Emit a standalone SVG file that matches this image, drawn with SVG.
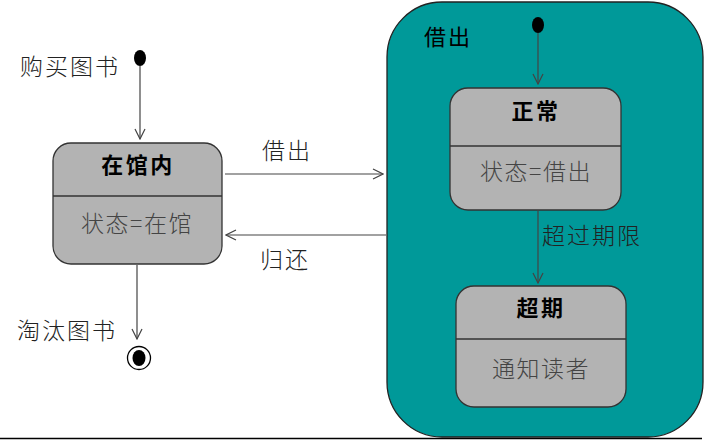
<svg xmlns="http://www.w3.org/2000/svg" width="704" height="440" viewBox="0 0 704 440">
<style>
text{font-family:"Liberation Serif","Noto Sans CJK SC",serif;}
.state{fill:#b3b3b3;stroke:#333;stroke-width:1.3;}
.div{stroke:#333;stroke-width:1.3;}
.title{font-family:"Noto Sans CJK SC",sans-serif;font-weight:bold;font-size:22px;letter-spacing:2.5px;fill:#000;text-anchor:middle;}
.act{font-family:"Noto Sans CJK SC",sans-serif;font-weight:300;font-size:23px;letter-spacing:1.5px;fill:#444;text-anchor:middle;}
.lbl{font-family:"Noto Sans CJK SC",sans-serif;font-weight:300;font-size:23px;letter-spacing:2px;fill:#222;}
.conn{stroke:#444;stroke-width:1.2;fill:none;marker-end:url(#arr);}
</style>
<defs>
<marker id="arr" viewBox="0 0 12 12" refX="11" refY="6" markerWidth="12" markerHeight="12" markerUnits="userSpaceOnUse" orient="auto">
<path d="M1,1 L11,6 L1,11" fill="none" stroke="#444" stroke-width="1.2"/>
</marker>
</defs>
<rect width="704" height="440" fill="#fff"/>
<g id="composite-borrowed">
<rect x="387" y="2" width="316" height="435" rx="55" ry="55" fill="#009999" stroke="#222" stroke-width="1.3"/>
<text x="424" y="45" font-family="Noto Sans CJK SC" font-size="22" letter-spacing="2" fill="#000">借出</text>
</g>
<g id="start-outer">
<ellipse cx="140" cy="58" rx="6" ry="8" fill="#000"/>
</g>
<g id="start-inner">
<ellipse cx="538" cy="25" rx="6" ry="8" fill="#000"/>
</g>
<g id="state-inlibrary">
<rect class="state" x="53" y="143" width="169" height="121" rx="18" ry="18"/>
<line class="div" x1="53" y1="196" x2="222" y2="196"/>
<text class="title" x="138" y="173">在馆内</text>
<text class="act" x="137" y="232">状态=在馆</text>
</g>
<g id="state-normal">
<rect class="state" x="450" y="88" width="171" height="122" rx="18" ry="18"/>
<line class="div" x1="450" y1="146" x2="621" y2="146"/>
<text class="title" x="536" y="119">正常</text>
<text class="act" x="536" y="180">状态=借出</text>
</g>
<g id="state-overdue">
<rect class="state" x="456" y="286" width="170" height="121" rx="18" ry="18"/>
<line class="div" x1="456" y1="339" x2="626" y2="339"/>
<text class="title" x="541" y="316">超期</text>
<text class="act" x="541" y="377">通知读者</text>
</g>
<g id="final">
<circle cx="139" cy="358" r="11.5" fill="#fff" stroke="#000" stroke-width="1.3"/>
<ellipse cx="139" cy="358" rx="6.5" ry="8" fill="#000"/>
</g>
<g id="connectors">
<line class="conn" x1="140" y1="66" x2="140" y2="139"/>
<line class="conn" x1="225" y1="174" x2="383" y2="174"/>
<line class="conn" x1="386" y1="235" x2="226" y2="235"/>
<line class="conn" x1="137" y1="265" x2="137" y2="339"/>
<line class="conn" x1="538" y1="33" x2="538" y2="84"/>
<line class="conn" x1="538" y1="210" x2="538" y2="283"/>
<text class="lbl" x="20" y="75">购买图书</text>
<text class="lbl" x="262" y="159">借出</text>
<text class="lbl" x="260" y="268">归还</text>
<text class="lbl" x="17" y="339">淘汰图书</text>
<text class="lbl" x="542" y="244">超过期限</text>
</g>
<line x1="0" y1="438.5" x2="702" y2="438.5" stroke="#000" stroke-width="1.5"/>
</svg>
